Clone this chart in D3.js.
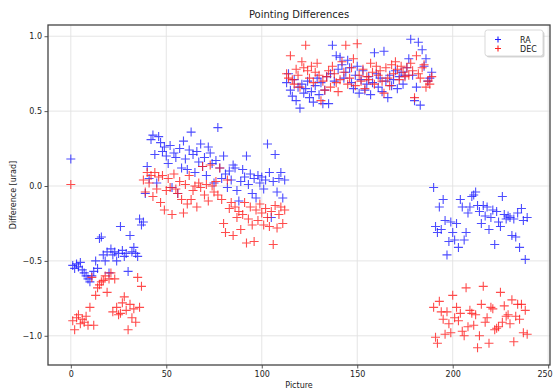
<!DOCTYPE html>
<html>
<head>
<meta charset="utf-8">
<script src="https://cdn.jsdelivr.net/npm/d3@7/dist/d3.min.js"></script>
<style>
  html, body { margin: 0; padding: 0; background: #fff; }
  svg { display: block; font-family: "DejaVu Sans", sans-serif; }
</style>
</head>
<body>
<svg id="chart" width="554" height="390"></svg>
<script>
// ---- data ----
const title = "Pointing Differences";
const xLabel = "Picture";
const yLabel = "Difference [urad]";
const seriesNames = ["RA", "DEC"];
const xTicks = [0, 50, 100, 150, 200, 250];
const yTicks = [-1.0, -0.5, 0.0, 0.5, 1.0];

// RA difference per picture (index = picture number)
const ra = [
  0.18,
  -0.53, -0.55, -0.52, -0.54, -0.51, -0.56, -0.58, -0.60, -0.62, -0.64,
  -0.60, -0.57, -0.50, -0.55, -0.35, -0.34, -0.46, -0.50, -0.44, -0.58,
  -0.42, -0.46, -0.44, -0.50, -0.45, -0.27, -0.43, -0.47, -0.45, -0.57,
  -0.33, -0.44, -0.41, -0.45, -0.47, -0.22, -0.26,
  -0.24, -0.05, 0.13, 0.05, 0.31, 0.34, 0.21, 0.02, 0.33, 0.29,
  0.23, 0.26, 0.20, 0.15, 0.27, -0.01, 0.22, 0.19, -0.05, 0.25,
  0.12, 0.30, 0.18, 0.11, 0.24, 0.36, 0.21, 0.09, 0.23, 0.16,
  0.28, 0.13, 0.19, 0.07, 0.26, 0.22, 0.15, 0.02, 0.17, 0.39,
  0.12, 0.05, 0.20, 0.08, -0.01, 0.10, 0.04, 0.14, 0.12, -0.03,
  -0.10, 0.03, 0.11, 0.06, 0.20, 0.01, 0.08, -0.05, 0.05, -0.08,
  0.07, 0.02, 0.06, -0.02, 0.04, 0.28, 0.09, -0.21, 0.03, 0.21,
  -0.04, 0.05, 0.09, -0.08, 0.04,
  0.69, 0.75, 0.64, 0.60, 0.71, 0.57, 0.66, 0.52, 0.68, 0.62,
  0.65, 0.70, 0.59, 0.63, 0.56, 0.67, 0.72, 0.61, 0.69, 0.55,
  0.64, 0.73, 0.55, 0.75, 0.94, 0.70, 0.87, 0.78, 0.86, 0.81,
  0.72, 0.76, 0.84, 0.79, 0.69, 0.65, 0.74, 0.80, 0.62, 0.71,
  0.77, 0.64, 0.68, 0.73, 0.61, 0.69, 0.89, 0.75, 0.66, 0.72,
  0.63, 0.90, 0.70, 0.59, 0.74, 0.67, 0.71, 0.77, 0.65, 0.73,
  0.76, 0.68, 0.74, 0.79, 0.85, 0.98, 0.74, 0.57, 0.66, 0.96,
  0.54, 0.91, 0.80, 0.85, 0.70, 0.72, 0.76,
  -0.01, -0.27, -0.31, -0.14, -0.29, -0.09, -0.23, -0.46, -0.37, -0.24,
  -0.31, -0.36, -0.25, -0.41, -0.09, -0.14, -0.36, -0.31, -0.18, -0.14,
  -0.07, -0.06, -0.04, -0.13, -0.17, -0.25, -0.13, -0.20, -0.14, -0.29,
  -0.21, -0.16, -0.39, -0.17, -0.24, -0.27, -0.07, -0.19, -0.22, -0.20,
  -0.21, -0.33, -0.22, -0.34, -0.18, -0.41, -0.15, -0.23, -0.49, -0.21
];

// DEC difference per picture (index = picture number)
const dec = [
  0.01,
  -0.90, -0.96, -0.88, -0.86, -0.92, -0.89, -0.91, -0.87, -0.93, -0.81,
  -0.61, -0.93, -0.73, -0.68, -0.66, -0.64, -0.63, -0.60, -0.71, -0.62,
  -0.58, -0.84, -0.62, -0.81, -0.86, -0.85, -0.78, -0.74, -0.83, -0.96,
  -0.79, -0.88, -0.82, -0.91, -0.61, -0.81, -0.67,
  0.04, -0.04, 0.09, 0.02, 0.07, -0.07, 0.09, -0.02, 0.06, -0.11,
  0.07, -0.16, -0.03, 0.05, -0.01, -0.19, 0.08, -0.02, -0.05, 0.03,
  -0.09, -0.18, 0.01, -0.12, 0.07, -0.09, -0.03, 0.00, -0.14, 0.02,
  -0.01, 0.13, -0.06, 0.01, -0.10, 0.14, 0.00, -0.04, 0.03, -0.06,
  0.12, -0.09, -0.25, -0.31, 0.04, -0.15, -0.11, -0.33, -0.14, -0.21,
  -0.17, -0.29, -0.19, -0.11, -0.38, -0.22, -0.14, -0.26, -0.37, -0.16,
  -0.23, -0.12, -0.18, -0.26, -0.15, -0.21, -0.27, -0.17, -0.39, -0.13,
  -0.28, -0.19, -0.14, -0.25, -0.16,
  0.75, 0.72, 0.87, 0.71, 0.68, 0.78, 0.74, 0.66, 0.83, 0.79,
  0.94, 0.77, 0.72, 0.80, 0.69, 0.76, 0.82, 0.74, 0.57, 0.70,
  0.64, 0.73, 0.77, 0.66, 0.80, 0.75, 0.69, 0.63, 0.71, 0.83,
  0.76, 0.94, 0.68, 0.72, 0.79, 0.85, 0.67, 0.95, 0.74, 0.70,
  0.78, 0.65, 0.73, 0.71, 0.82, 0.76, 0.68, 0.80, 0.74, 0.77,
  0.70, 0.62, 0.79, 0.72, 0.67, 0.81, 0.75, 0.83, 0.78, 0.71,
  0.80, 0.76, 0.73, 0.79, 0.74, 0.82, 0.77, 0.59, 0.87, 0.75,
  0.72, 0.79, 0.81, 0.66, 0.70, 0.68, 0.73,
  -0.81, -1.01, -1.05, -0.77, -0.84, -0.89, -0.99, -0.84, -0.92, -0.98,
  -0.73, -0.88, -0.81, -0.90, -0.85, -0.97, -1.00, -0.68, -0.94, -0.83,
  -0.85, -0.93, -0.86, -1.08, -1.00, -0.79, -0.67, -0.91, -0.88, -1.05,
  -0.81, -0.82, -0.96, -0.95, -0.94, -0.71, -0.91, -0.80, -0.87, -0.86,
  -0.92, -0.76, -1.04, -0.87, -0.79, -0.89, -0.79, -0.98, -0.83, -0.99
];

// ---- drawing ----
const W = 554, H = 390;
const plot = { left: 48, right: 550, top: 25, bottom: 365 };
const colors = { RA: "#1f1fff", DEC: "#ff1f1f" };

const svg = d3.select("#chart");

const x = d3.scaleLinear().domain([-11.95, 250.95]).range([plot.left, plot.right]);
const y = d3.scaleLinear().domain([-1.195, 1.075]).range([plot.bottom, plot.top]);

const fmtY = v => d3.format(".1f")(v).replace("-", "\u2212");

// grid
const grid = svg.append("g").attr("class", "grid");
grid.selectAll("line.gx").data(xTicks).join("line")
  .attr("x1", d => x(d)).attr("x2", d => x(d))
  .attr("y1", plot.top).attr("y2", plot.bottom)
  .attr("stroke", "#e2e2e2").attr("stroke-width", 0.9);
grid.selectAll("line.gy").data(yTicks).join("line")
  .attr("x1", plot.left).attr("x2", plot.right)
  .attr("y1", d => y(d)).attr("y2", d => y(d))
  .attr("stroke", "#e2e2e2").attr("stroke-width", 0.9);

// marks
const plus = "M-4.5,0H4.5M0,-4.5V4.5";
const clip = svg.append("clipPath").attr("id", "clip").append("rect")
  .attr("x", plot.left).attr("y", plot.top)
  .attr("width", plot.right - plot.left).attr("height", plot.bottom - plot.top);

const seriesData = [
  { name: "RA", values: ra },
  { name: "DEC", values: dec }
];
const marks = svg.append("g").attr("clip-path", "url(#clip)");
seriesData.forEach(s => {
  marks.append("g").selectAll("path").data(s.values).join("path")
    .attr("d", plus)
    .attr("transform", (d, i) => `translate(${x(i)},${y(d)})`)
    .attr("fill", "none")
    .attr("stroke", colors[s.name])
    .attr("stroke-opacity", 0.8)
    .attr("stroke-width", 1.1);
});

// axes
const xAxis = svg.append("g")
  .attr("transform", `translate(0,${plot.bottom})`)
  .call(d3.axisBottom(x).tickValues(xTicks).tickSize(3.5).tickPadding(2.5).tickFormat(d3.format("d")));
const yAxis = svg.append("g")
  .attr("transform", `translate(${plot.left},0)`)
  .call(d3.axisLeft(y).tickValues(yTicks).tickSize(3.5).tickPadding(2.5).tickFormat(fmtY));
[xAxis, yAxis].forEach(a => {
  a.select(".domain").remove();
  a.selectAll(".tick line").attr("stroke", "#444").attr("stroke-width", 0.9);
  a.selectAll(".tick text").attr("fill", "#222").attr("font-size", 8)
    .attr("font-family", "DejaVu Sans, sans-serif");
});
// keep the last x tick label inside the window
xAxis.selectAll(".tick text").filter(d => d === xTicks[xTicks.length - 1])
  .attr("text-anchor", "end").attr("dx", "4");

// frame
svg.append("rect")
  .attr("x", plot.left).attr("y", plot.top)
  .attr("width", plot.right - plot.left).attr("height", plot.bottom - plot.top)
  .attr("fill", "none").attr("stroke", "#444").attr("stroke-width", 1.3);

// title and labels
svg.append("text")
  .attr("x", (plot.left + plot.right) / 2).attr("y", 17.5)
  .attr("text-anchor", "middle").attr("font-size", 10).attr("fill", "#222")
  .text(title);
svg.append("text")
  .attr("x", (plot.left + plot.right) / 2).attr("y", 388)
  .attr("text-anchor", "middle").attr("font-size", 8).attr("fill", "#222")
  .text(xLabel);
svg.append("text")
  .attr("transform", `translate(16,${(plot.top + plot.bottom) / 2}) rotate(-90)`)
  .attr("text-anchor", "middle").attr("font-size", 8).attr("fill", "#222")
  .text(yLabel);

// legend
const lg = svg.append("g").attr("transform", "translate(485,30)");
lg.append("rect").attr("x", 1.5).attr("y", 1.5).attr("width", 58).attr("height", 26)
  .attr("rx", 2.5).attr("fill", "#bbb").attr("opacity", 0.6);
lg.append("rect").attr("x", 0).attr("y", 0).attr("width", 58).attr("height", 26)
  .attr("rx", 2.5).attr("fill", "#fff").attr("stroke", "#cfcfcf").attr("stroke-width", 0.8);
seriesNames.forEach((n, i) => {
  const yy = 9.5 + i * 9;
  lg.append("path").attr("d", "M-3,0H3M0,-3V3")
    .attr("transform", `translate(13,${yy})`)
    .attr("fill", "none").attr("stroke", colors[n]).attr("stroke-width", 1.1);
  lg.append("text").attr("x", 35).attr("y", yy + 3)
    .attr("font-size", 8).attr("fill", "#222").text(n);
});
</script>
</body>
</html>
